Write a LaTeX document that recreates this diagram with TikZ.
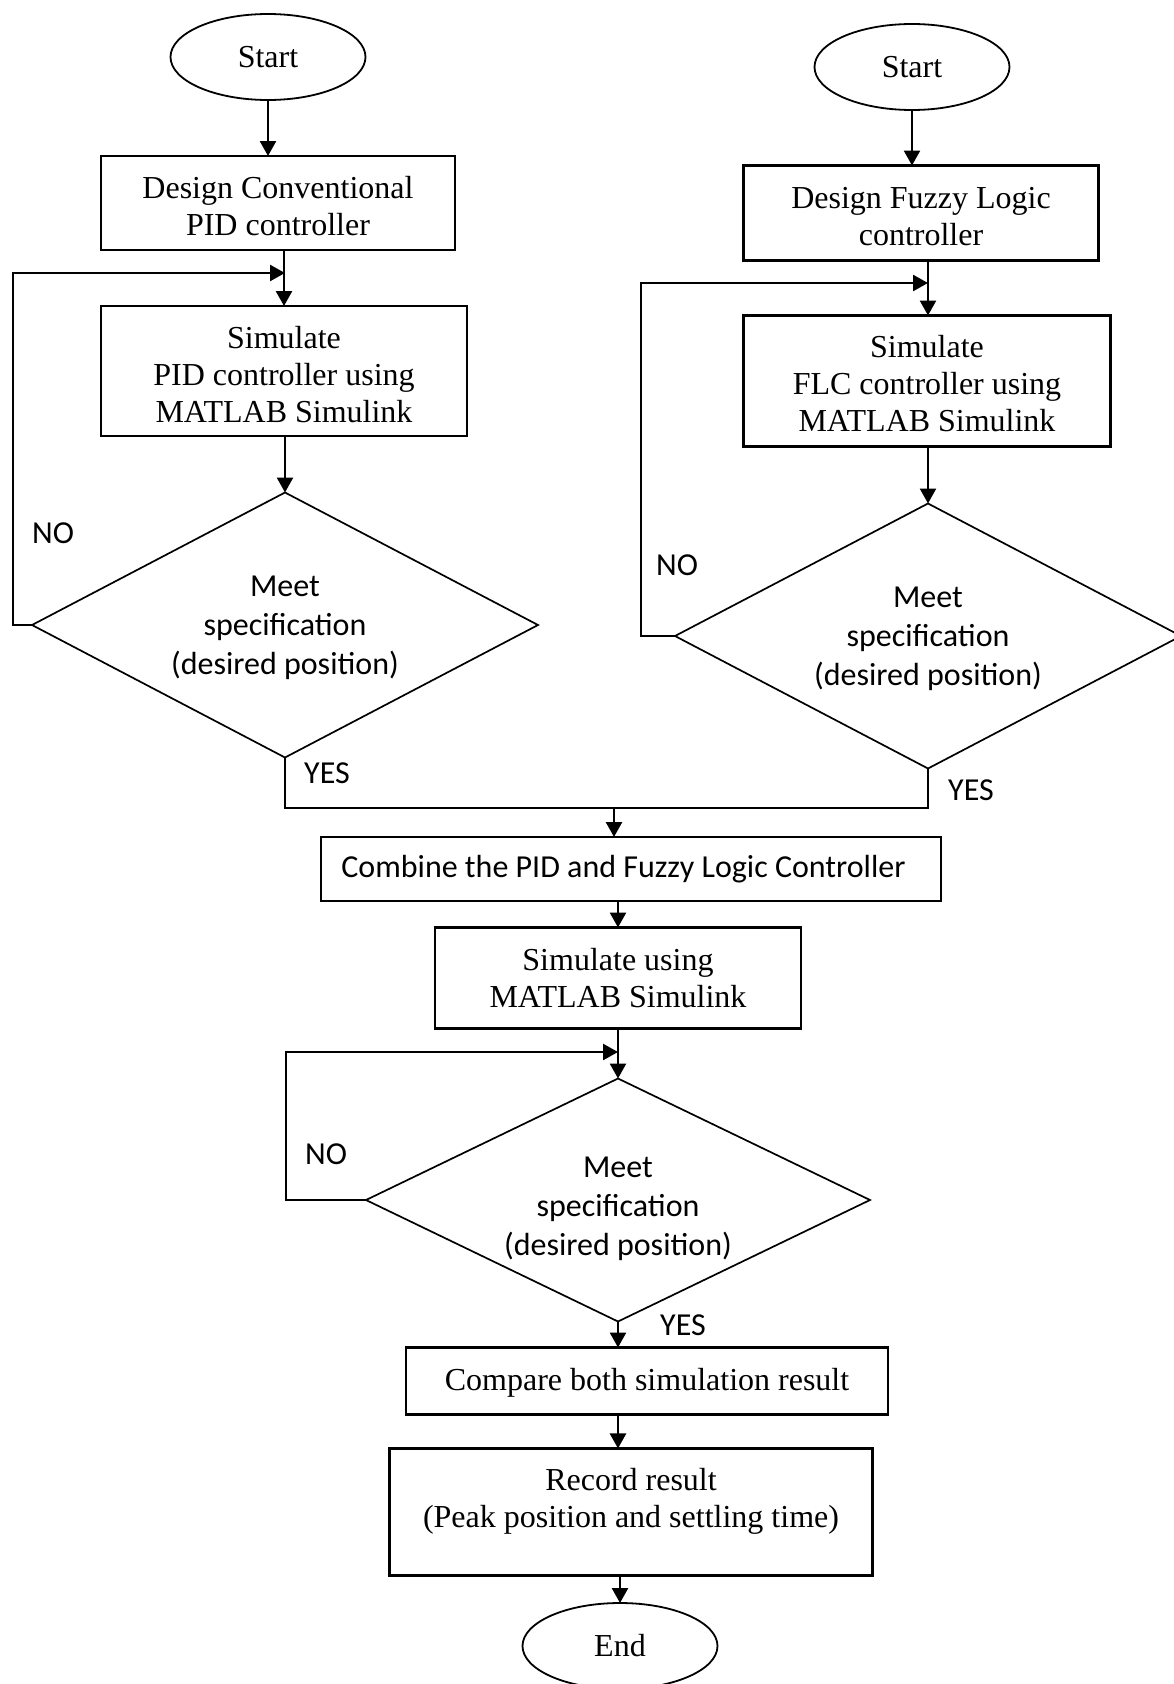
\documentclass[tikz,border=0pt]{standalone}
\usepackage{fontspec}
\setmainfont{Liberation Serif}
\newfontfamily\labelfont{Carlito}
\usetikzlibrary{shapes.geometric,arrows.meta}
% invisible strut that lowers a text block a little inside its shape
\newcommand{\padtop}[1]{\rule{0pt}{#1}}

\begin{document}
\begin{tikzpicture}[x=1pt,y=-1pt,
  every node/.style={inner sep=0pt, outer sep=0pt},
  serif/.style={font=\fontsize{32}{37}\selectfont, align=center},
  sans/.style={font=\labelfont\fontsize{32}{39}\selectfont, align=center},
  terminal/.style={draw, ellipse, line width=1.8pt, minimum width=195pt, minimum height=86pt, serif},
  process/.style={draw, rectangle, line width=2.3pt, serif},
  decision/.style={draw, diamond, aspect=1.9, line width=1.7pt, sans},
  flow/.style={line width=2.5pt, -{Triangle[length=15pt,width=16pt]}},
  link/.style={line width=2.5pt},
  lbl/.style={sans}
]
\useasboundingbox (0,0) rectangle (1174,1684);
\clip (0,0) rectangle (1174,1684);

% PID branch
\node[terminal] (startA) at (268,57) {Start};
\node[process, minimum width=354pt, minimum height=94pt] (dsgnPID) at (278,203)
  {\padtop{28pt}Design Conventional\\PID controller};
\node[process, minimum width=366pt, minimum height=130pt] (simPID) at (284,371)
  {\padtop{29pt}Simulate\\PID controller using\\MATLAB Simulink};
\node[decision, minimum width=506pt, minimum height=265pt] (decA) at (285,625)
  {\padtop{27pt}Meet\\specification\\(desired position)};

% Fuzzy branch
\node[terminal] (startB) at (912,67) {Start};
\node[process, minimum width=355pt, minimum height=95pt] (dsgnFLC) at (921,213)
  {\padtop{28pt}Design Fuzzy Logic\\controller};
\node[process, minimum width=367pt, minimum height=131pt] (simFLC) at (927,381)
  {\padtop{28pt}Simulate\\FLC controller using\\MATLAB Simulink};
\node[decision, minimum width=506pt, minimum height=265pt] (decB) at (928,636)
  {\padtop{26pt}Meet\\specification\\(desired position)};

% Combined part
\node[process, sans, minimum width=620pt, minimum height=64pt] (combine) at (631,869)
  {\hbox{Combine the PID and Fuzzy Logic Controller\kern15pt}};
\node[process, minimum width=366pt, minimum height=101pt] (simBoth) at (618,978)
  {Simulate using\\MATLAB Simulink};
\node[decision, minimum width=504pt, minimum height=243pt] (decC) at (618,1200)
  {\padtop{39pt}Meet\\specification\\(desired position)};
\node[process, minimum width=482pt, minimum height=67pt] (compare) at (647,1381)
  {\padtop{26pt}Compare both simulation result};
\node[process, minimum width=483pt, minimum height=126pt] (record) at (631,1512)
  {\padtop{42pt}Record result\\(Peak position and settling time)\\\strut};
\node[terminal] (endN) at (620,1646) {End};

% Branch labels
\node[lbl] (noA) at (53,533) {NO};
\node[lbl] (yesA) at (327,773) {YES};
\node[lbl] (noB) at (677,565) {NO};
\node[lbl] (yesB) at (971,790) {YES};
\node[lbl] (noC) at (326,1154) {NO};
\node[lbl] (yesC) at (683,1325) {YES};

% Loop corners and merge point
\coordinate (loopA) at (13,273);
\coordinate (loopB) at (641,283);
\coordinate (loopC) at (286,1052);
\coordinate (merge) at (614,808);

% PID branch connectors
\draw[flow] (startA.south) -- (startA.south |- dsgnPID.north);
\draw[flow] (simPID.north |- dsgnPID.south) -- (simPID.north);
\draw[flow] (decA.north |- simPID.south) -- (decA.north);
\draw[flow] (decA.west) -| (loopA) -- (decA.north |- loopA);

% Fuzzy branch connectors
\draw[flow] (startB.south) -- (startB.south |- dsgnFLC.north);
\draw[flow] (decB.north |- dsgnFLC.south) -- (decB.north |- simFLC.north);
\draw[flow] (decB.north |- simFLC.south) -- (decB.north);
\draw[flow] (decB.west) -| (loopB) -- (decB.north |- loopB);

% Merging the YES paths
\draw[link] (decA.south) |- (decB.south |- merge) -- (decB.south);
\draw[flow] (merge) -- (merge |- combine.north);

% Combined part connectors
\draw[flow] (simBoth.north |- combine.south) -- (simBoth.north);
\draw[flow] (decC.north |- simBoth.south) -- (decC.north);
\draw[flow] (decC.west) -| (loopC) -- (decC.north |- loopC);
\draw[flow] (decC.south) -- (decC.south |- compare.north);
\draw[flow] (decC.south |- compare.south) -- (decC.south |- record.north);
\draw[flow] (endN.north |- record.south) -- (endN.north);
\end{tikzpicture}
\end{document}
